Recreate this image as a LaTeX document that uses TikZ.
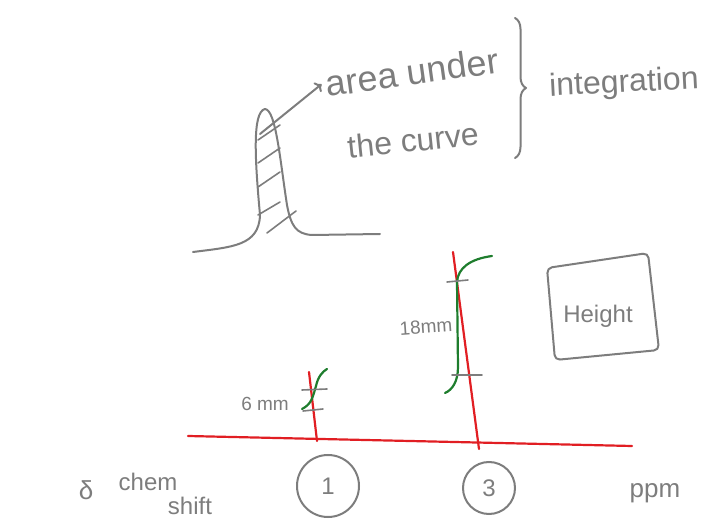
\documentclass[tikz,border=0pt]{standalone}
\usepackage{fontspec}
\setmainfont{Liberation Sans}
\usetikzlibrary{arrows.meta, positioning, decorations.pathreplacing}
\definecolor{inkgray}{RGB}{125,125,125}
\definecolor{inkred}{RGB}{225,30,35}
\definecolor{inkgreen}{RGB}{30,125,45}

\begin{document}
\begin{tikzpicture}[
    x=1pt, y=-1pt,
    sketch/.style={draw=inkgray, line width=2pt, line cap=round, line join=round},
    hand/.style={text=inkgray, inner sep=0pt, font=\fontsize{32}{38}\selectfont},
    handsmall/.style={hand, font=\fontsize{19}{23}\selectfont},
    axisline/.style={draw=inkred, line width=2.2pt, line cap=round},
    peakline/.style={draw=inkgreen, line width=2.2pt, line cap=round},
    tickmark/.style={sketch, line width=1.6pt},
    ring/.style={circle, draw=inkgray, line width=2pt, text=inkgray,
                 font=\fontsize{24}{28}\selectfont, inner sep=0pt}
]
\useasboundingbox (0,0) rectangle (716,529);

% picco con area tratteggiata
\draw[sketch] (193,252) .. controls (232,247) and (259,246) .. (260,215)
    .. controls (255,160) and (252,112) .. (265,109)
    .. controls (276,110) and (280,160) .. (287,205)
    .. controls (291,226) and (296,234) .. (312,235) -- (380,234);
\foreach \ya/\yb in {140/125, 163/148, 187/172, 215/202} {
    \draw[sketch, line width=1.6pt] (258,\ya) -- (280,\yb);
}
\draw[sketch, line width=1.6pt] (267,233) -- (296,211);
\coordinate (peakin) at (260,134);

\node[hand, rotate=8, font=\fontsize{36}{40}\selectfont] (area) at (412,72) {area under};
\node[hand, rotate=6] (curve) at (413,140) {the curve};
\node[hand, rotate=3] (integ) at (624,84) {integration};
\draw[sketch, -{To[length=6pt, width=12pt]}] (peakin) -- ([xshift=-4pt]area.west);
\draw[sketch, decorate, decoration={brace, amplitude=11pt}] (515,18) -- (515,158);

% asse dello spostamento chimico
\coordinate (ax0) at (188,436);
\coordinate (ax1) at (632,446);
\draw[axisline] (ax0) -- (ax1);

\node[ring, minimum size=62pt] (p1) at (328,486) {1};
\node[ring, minimum size=52pt] (p3) at (489,488) {3};
\node[hand, font=\fontsize{26}{30}\selectfont] (delta) at (86,490) {δ};
\node[hand, font=\fontsize{24}{28}\selectfont] (chem) at (148,482) {chem};
\node[hand, font=\fontsize{24}{28}\selectfont] (shift) at (190,506) {shift};
\node[hand, font=\fontsize{26}{30}\selectfont] (ppm) at (655,493) {ppm};

% picco piccolo: 6 mm
\coordinate (v1t) at (309,372);
\coordinate (v1b) at (317,441);
\draw[axisline] (v1t) -- (v1b);
\draw[peakline] (302,409) .. controls (312,404) and (313,396) .. (316,386)
    .. controls (318,377) and (322,372) .. (327,369);
\draw[tickmark] (302,390) -- (327,389);
\draw[tickmark] (303,411) -- (323,409);
\node[handsmall] (mm6) at (265,404) {6 mm};

% picco grande: 18 mm
\coordinate (v3t) at (453,252);
\coordinate (v3b) at (479,449);
\draw[axisline] (v3t) -- (v3b);
\draw[peakline] (492,256) .. controls (470,259) and (458,268) .. (457,282)
    -- (458,367) .. controls (458,382) and (452,390) .. (445,393);
\draw[tickmark] (447,282) -- (468,280);
\draw[tickmark] (452,375) -- (482,375);
\node[handsmall, rotate=4] (mm18) at (426,327) {18mm};

\node[hand, font=\fontsize{24}{28}\selectfont] (height) at (598,316) {Height};
\draw[sketch, rounded corners=5pt] (547,268) -- (555,360) -- (659,350) -- (648,253) -- cycle;
\end{tikzpicture}
\end{document}
